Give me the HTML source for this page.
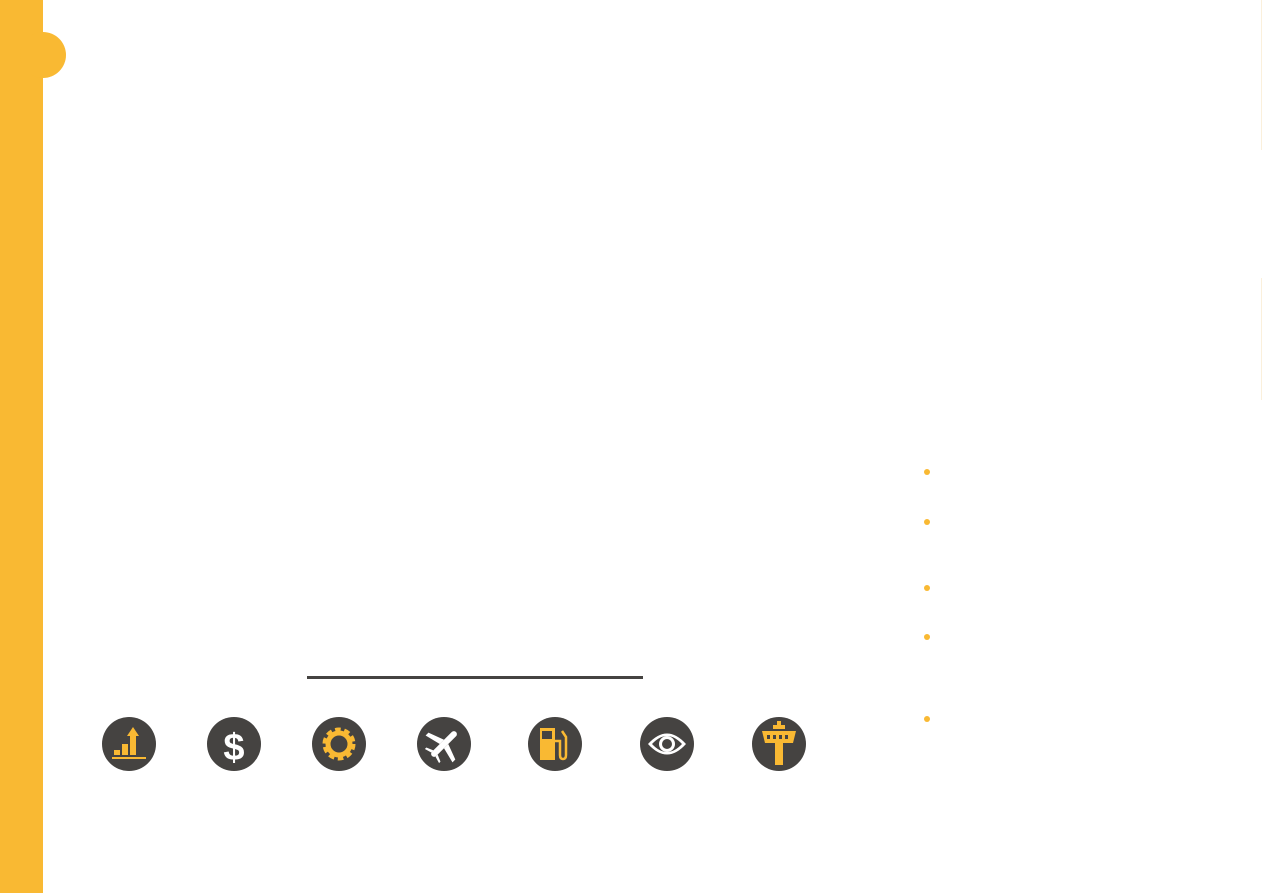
<!DOCTYPE html>
<html><head><meta charset="utf-8"><style>
html,body{margin:0;padding:0;width:1263px;height:893px;background:#fff;overflow:hidden;position:relative;font-family:"Liberation Sans",sans-serif}
.a{position:absolute}
.ic{position:absolute;width:54px;height:54px;border-radius:50%;background:#454341;top:717px}
.ic svg{position:absolute;left:0;top:0}
.b{position:absolute;width:6px;height:6px;border-radius:50%;background:#F9B933;left:924px}
</style></head><body>
<div class="a" style="left:0;top:0;width:43px;height:893px;background:#F9B933"></div>
<div class="a" style="left:20px;top:32px;width:46px;height:46px;border-radius:50%;background:#F9B933"></div>
<div class="a" style="left:307px;top:676px;width:336px;height:3px;background:#454341"></div>
<div class="a" style="left:1261px;top:0;width:1px;height:150px;background:#FBF0DC"></div>
<div class="a" style="left:1261px;top:278px;width:1px;height:122px;background:#FBF0DC"></div>

<div class="ic" style="left:102px"><svg width="54" height="54"><rect x="12" y="33" width="6" height="5" fill="#F9B933"/><rect x="20" y="27" width="6" height="11" fill="#F9B933"/><rect x="28" y="19" width="6" height="19" fill="#F9B933"/><polygon points="31,10 37,19 25,19" fill="#F9B933"/><rect x="10" y="40" width="34" height="2" fill="#F9B933"/></svg></div>
<div class="ic" style="left:207px"><svg width="54" height="54"><text x="27" y="43" font-size="38" font-weight="bold" fill="#fff" text-anchor="middle" font-family="Liberation Sans">$</text></svg></div>
<div class="ic" style="left:312px"><svg width="54" height="54"><circle cx="27" cy="27" r="13" fill="none" stroke="#F9B933" stroke-width="7" stroke-dasharray="5 3.2"/><circle cx="27" cy="27" r="11" fill="none" stroke="#F9B933" stroke-width="5"/></svg></div>
<div class="ic" style="left:417px"><svg width="54" height="54"><g transform="rotate(-45 27 27)" fill="#fff"><rect x="10" y="24" width="34" height="6" rx="3"/><polygon points="24,24 30,24 24,8 20,8"/><polygon points="24,30 30,30 24,46 20,46"/><polygon points="12,24 15,24 12,17 10,17"/><polygon points="12,30 15,30 12,37 10,37"/></g></svg></div>
<div class="ic" style="left:528px"><svg width="54" height="54"><rect x="12" y="11" width="15" height="32" fill="#F9B933"/><rect x="14" y="14" width="10" height="8" fill="#454341"/><path d="M27 24 H32 V38 Q32 42 35 42 Q38 42 38 38 V20 L34 14" fill="none" stroke="#F9B933" stroke-width="2.5"/></svg></div>
<div class="ic" style="left:640px"><svg width="54" height="54"><path d="M8 27 Q27 6 46 27 Q27 48 8 27Z" fill="#fff"/><path d="M12 27 Q27 11 42 27 Q27 43 12 27Z" fill="#454341"/><circle cx="27" cy="27" r="8" fill="#fff"/><circle cx="27" cy="27" r="5" fill="#454341"/></svg></div>
<div class="ic" style="left:752px"><svg width="54" height="54"><rect x="25" y="4" width="4" height="5" fill="#F9B933"/><rect x="21" y="8" width="12" height="4" fill="#F9B933"/><polygon points="10,14 44,14 41,26 13,26" fill="#F9B933"/><rect x="15" y="18" width="3" height="4" fill="#454341"/><rect x="21" y="18" width="3" height="4" fill="#454341"/><rect x="27" y="18" width="3" height="4" fill="#454341"/><rect x="33" y="18" width="3" height="4" fill="#454341"/><rect x="23" y="26" width="8" height="22" fill="#F9B933"/></svg></div>

<div class="b" style="top:469px"></div>
<div class="b" style="top:519px"></div>
<div class="b" style="top:585px"></div>
<div class="b" style="top:634px"></div>
<div class="b" style="top:716px"></div>
</body></html>
